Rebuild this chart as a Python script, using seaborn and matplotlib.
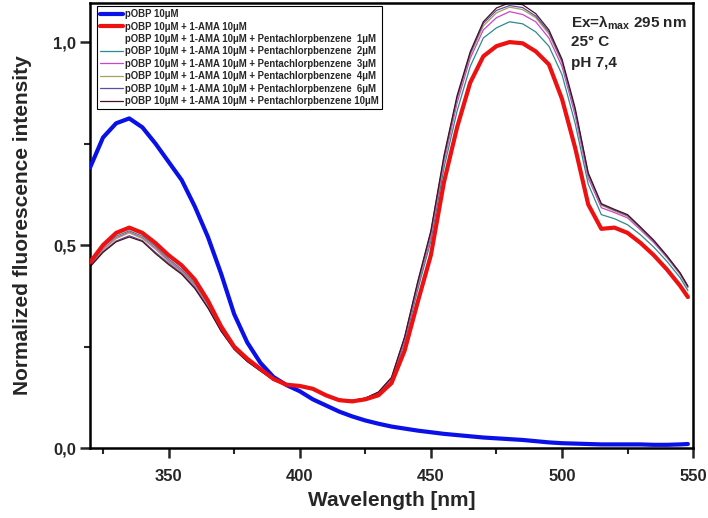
import numpy as np
import pandas as pd
import matplotlib
matplotlib.use("Agg")
import matplotlib.pyplot as plt
from matplotlib.ticker import FixedLocator, FixedFormatter
import seaborn as sns

# wavelength grid [nm]
wl = [320, 325, 330, 335, 340, 345, 350, 355, 360, 365, 370, 375, 380, 385,
      390, 395, 400, 405, 410, 415, 420, 425, 430, 435, 440, 445, 450, 455,
      460, 465, 470, 475, 480, 485, 490, 495, 500, 505, 510, 515, 520, 525,
      530, 535, 540, 545, 548]

obp = [0.690, 0.765, 0.800, 0.812, 0.790, 0.750, 0.705, 0.660, 0.595, 0.520,
       0.430, 0.330, 0.260, 0.210, 0.175, 0.155, 0.140, 0.120, 0.105, 0.090,
       0.078, 0.068, 0.060, 0.053, 0.048, 0.043, 0.039, 0.035, 0.032, 0.029,
       0.026, 0.024, 0.022, 0.020, 0.017, 0.014, 0.012, 0.011, 0.010, 0.009,
       0.009, 0.009, 0.009, 0.008, 0.008, 0.009, 0.010]

ama = [0.457, 0.500, 0.530, 0.543, 0.530, 0.505, 0.475, 0.450, 0.415, 0.363,
       0.300, 0.250, 0.220, 0.195, 0.170, 0.156, 0.153, 0.146, 0.130, 0.118,
       0.115, 0.120, 0.130, 0.160, 0.240, 0.360, 0.475, 0.655, 0.790, 0.900,
       0.965, 0.990, 1.000, 0.997, 0.977, 0.945, 0.860, 0.740, 0.600, 0.540,
       0.543, 0.530, 0.505, 0.475, 0.440, 0.400, 0.372]

pcb1 = [0.456, 0.497, 0.526, 0.539, 0.526, 0.501, 0.470, 0.445, 0.410, 0.359,
        0.297, 0.249, 0.219, 0.194, 0.170, 0.157, 0.154, 0.147, 0.131, 0.119,
        0.116, 0.121, 0.133, 0.165, 0.252, 0.378, 0.495, 0.675, 0.812, 0.922,
        0.990, 1.015, 1.028, 1.024, 1.003, 0.968, 0.892, 0.772, 0.628, 0.562,
        0.556, 0.542, 0.516, 0.486, 0.451, 0.411, 0.381]

pcb2 = [0.455, 0.495, 0.522, 0.535, 0.522, 0.497, 0.466, 0.440, 0.405, 0.355,
        0.295, 0.248, 0.218, 0.193, 0.170, 0.157, 0.154, 0.147, 0.131, 0.120,
        0.117, 0.122, 0.135, 0.168, 0.260, 0.390, 0.510, 0.690, 0.830, 0.940,
        1.010, 1.035, 1.050, 1.045, 1.025, 0.990, 0.920, 0.800, 0.650, 0.575,
        0.565, 0.550, 0.525, 0.495, 0.460, 0.420, 0.388]

pcb3 = [0.452, 0.490, 0.518, 0.532, 0.518, 0.493, 0.462, 0.436, 0.400, 0.350,
        0.292, 0.246, 0.216, 0.192, 0.169, 0.156, 0.154, 0.147, 0.131, 0.120,
        0.117, 0.122, 0.136, 0.170, 0.265, 0.400, 0.520, 0.705, 0.850, 0.960,
        1.030, 1.060, 1.075, 1.068, 1.050, 1.010, 0.940, 0.820, 0.665, 0.592,
        0.580, 0.567, 0.537, 0.506, 0.469, 0.428, 0.395]

pcb4 = [0.450, 0.488, 0.516, 0.530, 0.516, 0.490, 0.459, 0.433, 0.398, 0.348,
        0.291, 0.245, 0.215, 0.191, 0.169, 0.156, 0.154, 0.147, 0.131, 0.120,
        0.117, 0.123, 0.137, 0.172, 0.270, 0.405, 0.528, 0.712, 0.860, 0.968,
        1.040, 1.072, 1.086, 1.080, 1.060, 1.020, 0.950, 0.830, 0.672, 0.598,
        0.584, 0.571, 0.540, 0.509, 0.471, 0.430, 0.397]

pcb6 = [0.448, 0.484, 0.510, 0.523, 0.511, 0.482, 0.455, 0.430, 0.395, 0.346,
        0.289, 0.244, 0.214, 0.190, 0.168, 0.156, 0.154, 0.147, 0.131, 0.120,
        0.117, 0.123, 0.137, 0.173, 0.272, 0.408, 0.532, 0.716, 0.864, 0.972,
        1.046, 1.078, 1.090, 1.085, 1.064, 1.025, 0.953, 0.833, 0.675, 0.600,
        0.586, 0.573, 0.542, 0.510, 0.472, 0.431, 0.398]

pcb10 = [0.446, 0.482, 0.508, 0.520, 0.509, 0.479, 0.452, 0.428, 0.393, 0.345,
         0.288, 0.243, 0.213, 0.190, 0.168, 0.155, 0.154, 0.147, 0.131, 0.120,
         0.117, 0.123, 0.138, 0.174, 0.274, 0.410, 0.535, 0.720, 0.868, 0.976,
         1.050, 1.084, 1.097, 1.092, 1.070, 1.030, 0.958, 0.838, 0.678, 0.602,
         0.588, 0.575, 0.544, 0.512, 0.474, 0.432, 0.399]

base = "pOBP 10\u03bcM + 1-AMA 10\u03bcM + Pentachlorpbenzene "
labels = ["pOBP 10\u03bcM", "pOBP 10\u03bcM + 1-AMA 10\u03bcM",
          base + " 1\u03bcM", base + " 2\u03bcM", base + " 3\u03bcM",
          base + " 4\u03bcM", base + " 6\u03bcM", base + "10\u03bcM"]
series = [obp, ama, pcb1, pcb2, pcb3, pcb4, pcb6, pcb10]
colors = ["#0a10e8", "#ee1111", "#ffffff", "#2e8b8b", "#cc44cc",
          "#a89f5a", "#5a4fa8", "#4a1020"]
widths = [3.0, 3.0, 0.9, 0.9, 0.9, 0.9, 0.9, 0.9]
zorders = [4, 5, 2, 2, 2, 2, 2, 2]

sns.set_style("ticks")
plt.rcParams['font.family'] = ['Liberation Sans', 'DejaVu Sans']
plt.rcParams['mathtext.fontset'] = 'custom'
plt.rcParams['mathtext.rm'] = 'Liberation Sans'

fig = plt.figure(figsize=(7.08, 5.18), dpi=100)
ax = fig.add_axes([0.127, 0.135, 0.852, 0.859])

for y, lab, c, w, z in zip(series, labels, colors, widths, zorders):
    df = pd.DataFrame({"wl": wl, "val": y})
    sns.lineplot(data=df, x="wl", y="val", color=c, lw=w, label=lab,
                 zorder=z, ax=ax)

ax.set_xlim(320, 550)
ax.set_ylim(0, 1.096)
ax.xaxis.set_major_locator(FixedLocator([350, 400, 450, 500, 550]))
ax.xaxis.set_minor_locator(FixedLocator([325, 375, 425, 475, 525]))
ax.yaxis.set_major_locator(FixedLocator([0.0, 0.5, 1.0]))
ax.yaxis.set_minor_locator(FixedLocator([0.25, 0.75]))
ax.yaxis.set_major_formatter(FixedFormatter(["0,0", "0,5", "1,0"]))
ax.tick_params(which="major", direction="out", length=7, width=1.8,
               labelsize=12, pad=3)
ax.tick_params(axis="x", which="major", pad=8)
ax.tick_params(which="minor", direction="out", length=4, width=1.5)
for lab in ax.get_xticklabels() + ax.get_yticklabels():
    lab.set_fontweight("bold")
for sp in ax.spines.values():
    sp.set_linewidth(1.8)
    sp.set_color("black")

ax.set_xlabel("Wavelength [nm]", fontsize=15, fontweight="bold", labelpad=5)
ax.set_ylabel("Normalized fluorescence intensity", fontsize=15,
              fontweight="bold", labelpad=15)

leg = ax.legend(loc="upper left", bbox_to_anchor=(0.008, 0.997),
                prop={"weight": "bold", "size": 6.9}, frameon=True,
                fancybox=False, edgecolor="black", framealpha=1,
                labelspacing=0.25, handlelength=2.4, handletextpad=0.25,
                borderpad=0.3, borderaxespad=0.2)
leg.get_frame().set_linewidth(0.8)

ax.text(0.798, 0.977, "Ex=\u03bb$_{\\mathregular{max}}$ 295 nm", transform=ax.transAxes,
        fontsize=11, fontweight="bold", va="top", ha="left")
ax.text(0.798, 0.928, "25\u00b0 C", transform=ax.transAxes,
        fontsize=11, fontweight="bold", va="top", ha="left")
ax.text(0.798, 0.882, "pH 7,4", transform=ax.transAxes,
        fontsize=11, fontweight="bold", va="top", ha="left")

fig.savefig("out.png", dpi=100)
